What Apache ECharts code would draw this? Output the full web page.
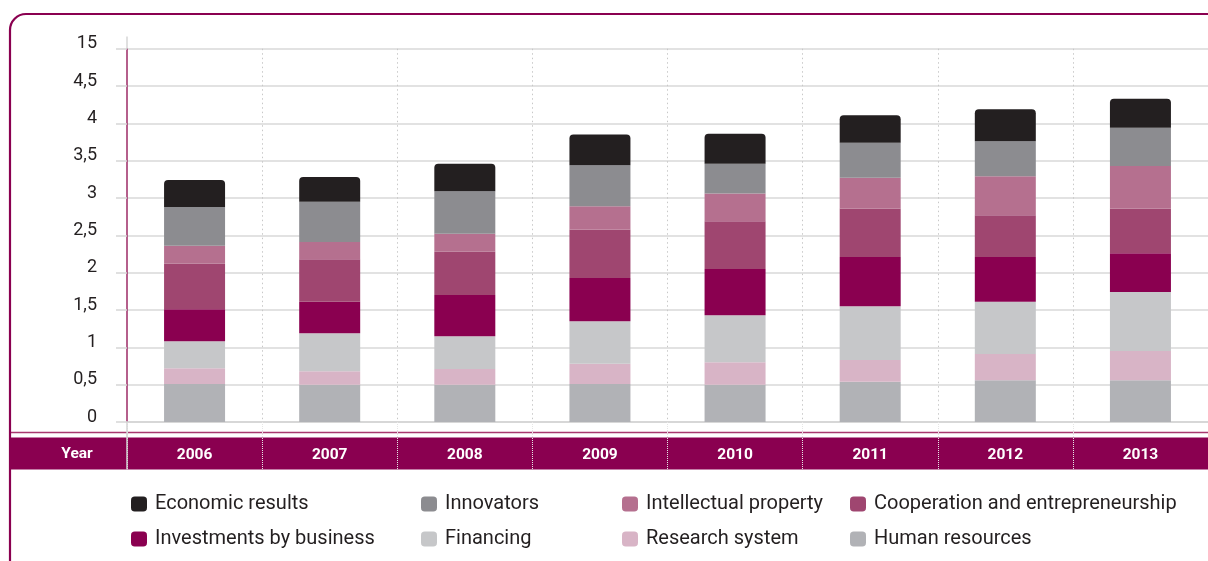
<!DOCTYPE html>
<html>
<head>
<meta charset="utf-8">
<script src="https://cdn.jsdelivr.net/npm/echarts@6/dist/echarts.min.js"></script>
<style>
html,body{margin:0;padding:0;background:#fff;}
#chart{width:1208px;height:561px;}
</style>
</head>
<body>
<div id="chart"></div>
<script>
const years = ['2006', '2007', '2008', '2009', '2010', '2011', '2012', '2013'];
const humanResources       = [0.51, 0.50, 0.50, 0.51, 0.50, 0.54, 0.56, 0.56];
const researchSystem       = [0.21, 0.18, 0.21, 0.27, 0.30, 0.29, 0.35, 0.39];
const financing            = [0.36, 0.51, 0.44, 0.57, 0.63, 0.72, 0.70, 0.79];
const investments          = [0.43, 0.42, 0.55, 0.58, 0.62, 0.66, 0.60, 0.52];
const cooperation          = [0.61, 0.57, 0.58, 0.65, 0.64, 0.65, 0.56, 0.60];
const intellectualProperty = [0.24, 0.23, 0.24, 0.31, 0.37, 0.41, 0.52, 0.57];
const innovators           = [0.52, 0.54, 0.57, 0.55, 0.40, 0.47, 0.47, 0.51];
const economicResults      = [0.36, 0.33, 0.37, 0.41, 0.40, 0.37, 0.43, 0.39];
const yTickLabels = ['0', '0,5', '1', '1,5', '2', '2,5', '3', '3,5', '4', '4,5', '15'];
const headerLabel = 'Year';

const FONT = "Roboto,'Liberation Sans',sans-serif";
const MAGENTA = '#8a0050';

const seriesDefs = [
  ['Human resources', humanResources, '#b1b2b6'],
  ['Research system', researchSystem, '#d8b4c6'],
  ['Financing', financing, '#c6c7c9'],
  ['Investments by business', investments, MAGENTA],
  ['Cooperation and entrepreneurship', cooperation, '#9f4670'],
  ['Intellectual property', intellectualProperty, '#b5708f'],
  ['Innovators', innovators, '#8c8c90'],
  ['Economic results', economicResults, '#231f20']
];

// legend grid: [name, column, row]
const legendLayout = [
  ['Economic results', 0, 0],
  ['Investments by business', 0, 1],
  ['Innovators', 1, 0],
  ['Financing', 1, 1],
  ['Intellectual property', 2, 0],
  ['Research system', 2, 1],
  ['Cooperation and entrepreneurship', 3, 0],
  ['Human resources', 3, 1]
];
const legendCols = [131, 421, 622, 850];
const legendRows = [494, 529];

const chart = echarts.init(document.getElementById('chart'), null, {renderer: 'canvas'});

const option = {
  animation: false,
  backgroundColor: '#ffffff',
  textStyle: {fontFamily: FONT},
  grid: {left: 127, top: 48.7, width: 1091, height: 373.3, containLabel: false},
  legend: legendLayout.map(function (l) {
    return {
      orient: 'horizontal',
      left: legendCols[l[1]],
      top: legendRows[l[2]],
      padding: 0,
      icon: 'roundRect',
      itemWidth: 16,
      itemHeight: 15,
      selectedMode: false,
      data: [l[0]],
      textStyle: {fontFamily: FONT, fontSize: 20, lineHeight: 20, color: '#231f20', padding: [0, 0, 0, 3]}
    };
  }),
  xAxis: {
    type: 'category',
    data: years,
    boundaryGap: true,
    axisLine: {show: true, lineStyle: {color: '#d4d4d4', width: 1.5}},
    axisTick: {show: true, interval: 0, length: 47, lineStyle: {color: '#e6e6e6', type: 'dotted', width: 1}},
    splitLine: {show: true, interval: 0, showMinLine: false, lineStyle: {color: '#c8c8c8', type: [1.5, 3], width: 1}},
    axisLabel: {color: '#ffffff', fontWeight: 'bold', fontSize: 15.5, margin: 25, fontFamily: FONT}
  },
  yAxis: {
    type: 'value',
    min: 0,
    max: 5,
    interval: 0.5,
    axisLine: {show: true, lineStyle: {color: '#9c2a66', width: 1.5}},
    axisTick: {show: true, inside: false, length: 11, lineStyle: {color: '#d6d6d6', width: 1.5}},
    splitLine: {show: true, lineStyle: {color: '#d9d9d9', width: 1.5}},
    axisLabel: {
      color: '#231f20', fontSize: 18, margin: 30, fontFamily: FONT,
      verticalAlign: 'bottom', lineHeight: 10,
      formatter: function (v) { return yTickLabels[Math.round(v / 0.5)]; }
    }
  },
  series: seriesDefs.map(function (d, i) {
    return {
      name: d[0],
      type: 'bar',
      stack: 'total',
      barWidth: 61,
      data: d[1],
      itemStyle: {color: d[2], borderRadius: i === seriesDefs.length - 1 ? [4, 4, 0, 0] : 0}
    };
  }),
  graphic: {
    elements: [
      {type: 'rect', z: -1, shape: {x: 10, y: 437.5, width: 1210, height: 32}, style: {fill: MAGENTA}},
      {type: 'line', z: -1, shape: {x1: 10, y1: 432.5, x2: 1210, y2: 432.5}, style: {stroke: '#a8386f', lineWidth: 1.5}},
      {type: 'rect', z: 10, shape: {x: 10, y: 14, width: 1240, height: 600, r: 16}, style: {fill: 'none', stroke: MAGENTA, lineWidth: 2.2}},
      {type: 'line', z: 10, shape: {x1: 127, y1: 422, x2: 127, y2: 469.5}, style: {stroke: '#d3d3d3', lineWidth: 1.5}},
      {type: 'line', z: 10, shape: {x1: 127, y1: 36.5, x2: 127, y2: 48.7}, style: {stroke: '#d6d6d6', lineWidth: 1.5}},
      {type: 'text', z: 10, style: {x: 77, y: 454, text: headerLabel, textAlign: 'center', textVerticalAlign: 'middle', fill: '#ffffff', font: 'bold 15.5px ' + FONT}}
    ]
  }
};
chart.setOption(option);
</script>
</body>
</html>
